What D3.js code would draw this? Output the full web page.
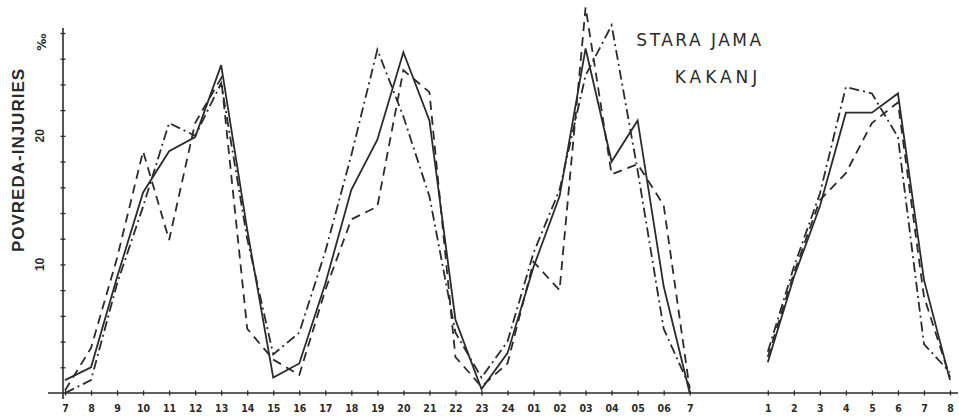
<!DOCTYPE html>
<html>
<head>
<meta charset="utf-8">
<script src="https://cdn.jsdelivr.net/npm/d3@7"></script>
<style>
  body { margin: 0; background: #fff; }
  svg { display: block; }
</style>
</head>
<body>
<svg id="chart"></svg>
<script>
// hour labels, first 24h cycle and the separate short run
const hoursA = ["7","8","9","10","11","12","13","14","15","16","17","18","19","20","21","22","23","24","01","02","03","04","05","06","7"];
const hoursB = ["1","2","3","4","5","6","7","8"];

// injuries per hour (‰), three series
const solidA   = [1.0, 2.0, 9.0, 15.6, 18.8, 19.9, 25.5, 12.7, 1.2, 2.3, 8.5, 15.8, 19.7, 26.5, 21.2, 5.7, 0.3, 3.1, 9.8, 15.3, 26.8, 18.0, 21.2, 8.3, 0.0];
const dashedA  = [0.2, 3.5, 10.5, 18.8, 11.9, 21.0, 24.5, 5.0, 2.6, 1.4, 8.0, 13.5, 14.5, 25.1, 23.4, 2.8, 0.5, 2.3, 10.2, 8.0, 30.0, 17.0, 17.8, 14.6, 0.3];
const dashDotA = [0.0, 1.0, 8.5, 14.5, 21.0, 20.0, 24.1, 12.0, 3.0, 4.7, 11.0, 18.5, 26.7, 21.5, 15.3, 4.7, 1.2, 4.0, 10.9, 15.8, 24.7, 28.6, 17.3, 5.0, 0.5];

const solidB   = [2.4, 9.0, 14.5, 21.8, 21.8, 23.3, 8.8, 1.0];
const dashedB  = [2.8, 9.3, 15.0, 17.1, 21.0, 22.6, 7.5, 1.2];
const dashDotB = [3.2, 9.8, 15.5, 23.8, 23.3, 19.9, 3.8, 1.6];

const yTicks = [2,4,6,8,10,12,14,16,18,20,22,24,26,28];
const yLabels = [10, 20];

const width = 959, height = 416;
const offsetB = 27; // index of "1" on the shared hour axis

const svg = d3.select('#chart').attr('width', width).attr('height', height);

const x = d3.scaleLinear().domain([0, 34]).range([65, 950]);
const y = d3.scaleLinear().domain([0, 28]).range([393, 33]);

const ink = '#2b2b2b';

// x axis
const xIdx = hoursA.map((d, i) => i).concat(hoursB.map((d, i) => i + offsetB));
const xLab = hoursA.concat(hoursB);

svg.append('line')
  .attr('x1', 48).attr('x2', 958)
  .attr('y1', y(0)).attr('y2', y(0))
  .attr('stroke', ink).attr('stroke-width', 1.6);

const xAxis = svg.append('g')
  .attr('transform', `translate(0, ${y(0)})`)
  .call(d3.axisBottom(x).tickValues(xIdx).tickFormat((d, i) => xLab[i]).tickSizeOuter(0).tickSize(3).tickPadding(9));
xAxis.select('.domain').remove();
xAxis.selectAll('.tick line').attr('y1', -2.5).attr('y2', 2.5).attr('stroke', ink).attr('stroke-width', 1.3);
xAxis.selectAll('.tick text')
  .attr('fill', ink)
  .style('font-family', '"Liberation Sans Narrow", "DejaVu Sans Condensed", sans-serif')
  .style('font-weight', 'bold')
  .style('font-size', '10.5px');

// y axis
svg.append('line')
  .attr('x1', x(0) - 2).attr('x2', x(0) - 2)
  .attr('y1', 28).attr('y2', 399)
  .attr('stroke', ink).attr('stroke-width', 1.6);

const yAxis = svg.append('g')
  .attr('transform', `translate(${x(0) - 2}, 0)`)
  .call(d3.axisLeft(y).tickValues(yTicks).tickFormat('').tickSizeOuter(0).tickSize(3));
yAxis.select('.domain').remove();
yAxis.selectAll('.tick line').attr('x1', -2.5).attr('x2', 2.5).attr('stroke', ink).attr('stroke-width', 1.3);

svg.selectAll('.ylab')
  .data(yLabels)
  .enter()
  .append('text')
  .attr('class', 'ylab')
  .attr('transform', d => `translate(44, ${y(d)}) rotate(-90)`)
  .attr('text-anchor', 'middle')
  .attr('fill', ink)
  .style('font-family', '"Liberation Sans Narrow", sans-serif')
  .style('font-weight', 'bold')
  .style('font-size', '12px')
  .text(d => d);

svg.append('text')
  .attr('transform', `translate(46, 42) rotate(-90)`)
  .attr('text-anchor', 'middle')
  .attr('fill', ink)
  .style('font-family', 'DejaVu Sans, sans-serif')
  .style('font-weight', 'bold')
  .style('font-size', '12px')
  .text('‰');

svg.append('text')
  .attr('transform', `translate(24, 160) rotate(-90)`)
  .attr('text-anchor', 'middle')
  .attr('fill', ink)
  .style('font-family', '"Liberation Sans Narrow", sans-serif')
  .style('font-weight', 'bold')
  .style('font-size', '17px')
  .style('letter-spacing', '1px')
  .text('POVREDA-INJURIES');

// title
svg.append('text')
  .attr('x', 700).attr('y', 46)
  .attr('text-anchor', 'middle')
  .attr('fill', ink)
  .style('font-family', '"DejaVu Sans", sans-serif')
  .style('font-size', '17px')
  .style('letter-spacing', '2.5px')
  .text('STARA JAMA');

svg.append('text')
  .attr('x', 718).attr('y', 83)
  .attr('text-anchor', 'middle')
  .attr('fill', ink)
  .style('font-family', '"DejaVu Sans", sans-serif')
  .style('font-size', '17px')
  .style('letter-spacing', '4px')
  .text('KAKANJ');

// series
const line = d3.line().x(d => x(d[0])).y(d => y(d[1]));

const series = [
  { a: solidA,   b: solidB,   dash: null },
  { a: dashedA,  b: dashedB,  dash: '9,6' },
  { a: dashDotA, b: dashDotB, dash: '10,4,2,4' }
];

series.forEach(s => {
  const segs = [
    s.a.map((v, i) => [i, v]),
    s.b.map((v, i) => [i + offsetB, v])
  ];
  segs.forEach(seg => {
    svg.append('path')
      .attr('d', line(seg))
      .attr('fill', 'none')
      .attr('stroke', ink)
      .attr('stroke-width', 1.8)
      .attr('stroke-linejoin', 'miter')
      .attr('stroke-dasharray', s.dash);
  });
});
</script>
</body>
</html>
